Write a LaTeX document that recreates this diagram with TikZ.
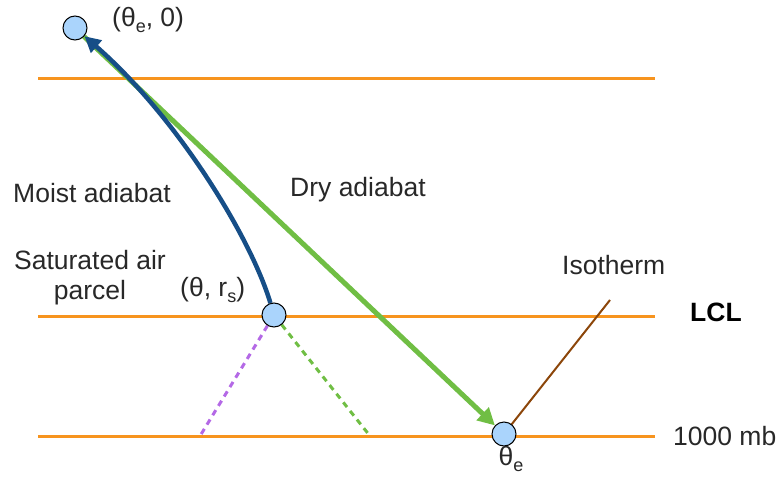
\documentclass[tikz,border=0pt]{standalone}
\usepackage{fontspec}
\setmainfont{Liberation Sans}
\usetikzlibrary{arrows.meta}
\definecolor{lvl}{RGB}{247,148,30}
\definecolor{dot}{RGB}{170,212,252}
\definecolor{moist}{RGB}{22,78,135}
\definecolor{dry}{RGB}{112,190,68}
\definecolor{purp}{RGB}{180,105,230}
\definecolor{brn}{RGB}{140,70,10}
\definecolor{txt}{RGB}{40,40,40}
\newcommand{\sbs}[1]{\raisebox{-0.2em}{\fontsize{18}{18}\selectfont #1}}
\pgfdeclarelayer{bg}
\pgfsetlayers{bg,main}
\begin{document}
\begin{tikzpicture}[x=1pt,y=-1pt,
  lvlline/.style={draw=lvl,line width=3pt},
  pt/.style={circle,draw=black,fill=dot,line width=1pt,minimum size=24pt,inner sep=0pt},
  lab/.style={text=txt,font=\fontsize{26.5}{30}\selectfont,inner sep=0pt},
  dashline/.style={line width=3pt,dash pattern=on 6pt off 5pt}]
\useasboundingbox (0,0) rectangle (778,476);
% nodes
\node[pt] (top) at (75,28) {};
\node[pt] (parcel) at (274,315) {};
\node[pt] (thetae) at (504,434) {};
\coordinate (l1a) at (38,79);  \coordinate (l1b) at (655,79);
\coordinate (l2a) at (38,316); \coordinate (l2b) at (655,316);
\coordinate (l3a) at (38,436); \coordinate (l3b) at (655,436);
\coordinate (pd) at (200,436);
\coordinate (gd) at (370,436);
\coordinate (iso) at (610,300);
% labels
\node[lab,anchor=west] (ltop) at (112,20) {(θ\sbs{e}, 0)};
\node[lab,anchor=west] (lmoist) at (13,193) {Moist adiabat};
\node[lab,anchor=west] (ldry) at (290,190) {Dry adiabat};
\node[lab,align=center] (lsat) at (90,278) {Saturated air\\parcel};
\node[lab,anchor=west] (lpar) at (180,290) {(θ, r\sbs{s})};
\node[lab,anchor=west] (liso) at (562,265) {Isotherm};
\node[lab,anchor=west,text=black,font=\fontsize{26.5}{30}\selectfont\bfseries] (llcl) at (690,312) {LCL};
\node[lab,anchor=west] (l1000) at (673,436) {1000 mb};
\node[lab] (lthe) at (511,459) {θ\sbs{e}};
\begin{pgfonlayer}{bg}
\draw[lvlline] (l1a) -- (l1b);
\draw[lvlline] (l2a) -- (l2b);
\draw[lvlline] (l3a) -- (l3b);
\draw[dashline,draw=purp] (parcel) -- (pd);
\draw[dashline,draw=dry] (parcel) -- (gd);
\draw[brn,line width=2pt] (thetae) -- (iso);
\draw[dry,line width=5pt,-{Triangle[length=17pt,width=17pt]}] (top) -- (thetae);
\draw[moist,line width=4.5pt,-{Triangle[length=16pt,width=16pt]}] (parcel) .. controls (250,235) and (175,115) .. (top);
\end{pgfonlayer}
\end{tikzpicture}
\end{document}
